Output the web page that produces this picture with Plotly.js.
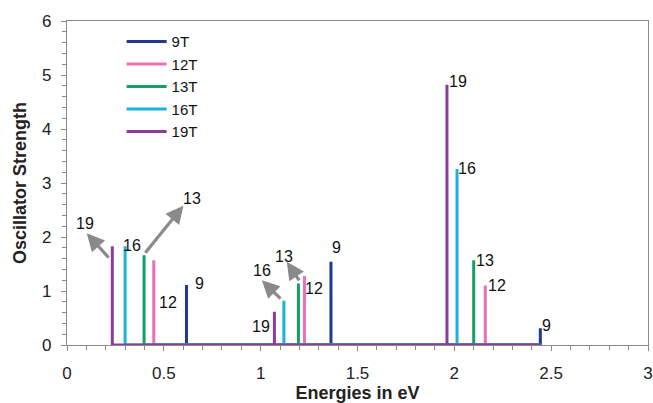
<!DOCTYPE html>
<html>
<head>
<meta charset="utf-8">
<script src="https://cdn.plot.ly/plotly-3.0.1.min.js"></script>
<style>html,body{margin:0;padding:0;background:#fff;}#chart{width:653px;height:403px;}</style>
</head>
<body>
<div id="chart"></div>
<script>
// Series names and colours
const seriesNames = ["9T", "12T", "13T", "16T", "19T"];
const seriesColors = ["#1f3a8f", "#ec6fb8", "#12a064", "#1ab4d9", "#8c3a9c"];

// Transition energies (eV) and oscillator strengths per series
const energies9T  = [0.617, 1.363, 2.444];
const strength9T  = [1.11, 1.54, 0.31];
const energies12T = [0.448, 1.226, 2.160];
const strength12T = [1.57, 1.28, 1.10];
const energies13T = [0.398, 1.195, 2.100];
const strength13T = [1.66, 1.14, 1.57];
const energies16T = [0.300, 1.120, 2.014];
const strength16T = [1.83, 0.82, 3.26];
const energies19T = [0.234, 1.071, 1.962];
const strength19T = [1.83, 0.615, 4.82];

const allEnergies = [energies9T, energies12T, energies13T, energies16T, energies19T];
const allStrengths = [strength9T, strength12T, strength13T, strength16T, strength19T];

// Tick labels
const xTickVals = [0, 0.5, 1, 1.5, 2, 2.5, 3];
const xTickText = ["0", "0.5", "1", "1.5", "2", "2.5", "3"];
const yTickVals = [0, 1, 2, 3, 4, 5, 6];
const yTickText = ["0", "1", "2", "3", "4", "5", "6"];

const baselineEnd = Math.max(...allEnergies.flat());

const traces = seriesNames.map((name, i) => {
  const xs = [], ys = [];
  allEnergies[i].forEach((e, j) => {
    xs.push(e, e, e);
    ys.push(0, allStrengths[i][j], 0);
  });
  xs.push(baselineEnd); ys.push(0);
  return {
    type: "scatter", mode: "lines", name: name,
    x: xs, y: ys,
    line: {color: seriesColors[i], width: 3},
    hoverinfo: "skip"
  };
});

const FAM = "Liberation Sans, Arial, sans-serif";
const fnt = {family: FAM, size: 16, color: "#111"};
function lab(text, x, y) {
  return {text: text, x: x, y: y, xref: "x", yref: "y", showarrow: false, font: fnt, xanchor: "center", yanchor: "middle"};
}
function arr(text, x, y, ax, ay, hx, hy) {
  return [
    lab(text, x, y),
    {text: "", x: hx, y: hy, ax: ax, ay: ay, xref: "x", yref: "y", axref: "x", ayref: "y",
     showarrow: true, arrowhead: 2, arrowsize: 1.1, arrowwidth: 3.2, arrowcolor: "#8a8a8a", standoff: 0}
  ];
}

const annotations = [
  ...arr("19", 0.093, 2.25, 0.222, 1.59, 0.102, 2.07),
  lab("16", 0.334, 1.85),
  ...arr("13", 0.644, 2.71, 0.398, 1.68, 0.601, 2.58),
  lab("12", 0.524, 0.78),
  lab("9", 0.684, 1.13),
  ...arr("16", 1.006, 1.38, 1.11, 0.83, 1.006, 1.20),
  ...arr("13", 1.118, 1.64, 1.204, 1.17, 1.135, 1.54),
  lab("12", 1.276, 1.05),
  lab("19", 1.001, 0.35),
  lab("9", 1.39, 1.81),
  lab("19", 2.017, 4.88),
  lab("16", 2.066, 3.26),
  lab("13", 2.16, 1.57),
  lab("12", 2.22, 1.11),
  lab("9", 2.475, 0.37)
];

const layout = {
  width: 653, height: 403,
  margin: {l: 67, r: 5, t: 21, b: 58},
  paper_bgcolor: "#fff", plot_bgcolor: "#fff",
  font: {family: FAM, color: "#222"},
  showlegend: true,
  legend: {x: 0.094, y: 0.987, xanchor: "left", yanchor: "top", bgcolor: "rgba(0,0,0,0)",
           font: {family: FAM, size: 15, color: "#111"},
           itemwidth: 40, tracegroupgap: 0},
  xaxis: {
    range: [0, 3], tickvals: xTickVals, ticktext: xTickText,
    showgrid: false, zeroline: false, showline: true, mirror: true, linecolor: "#8a8a8a", linewidth: 1.2,
    ticks: "outside", ticklen: 5, tickcolor: "#8a8a8a", ticklabelstandoff: 7,
    minor: {dtick: 0.1, ticks: "outside", ticklen: 4, tickcolor: "#8a8a8a", showgrid: false},
    tickfont: {family: FAM, size: 17, color: "#222"},
    title: {text: "<b>Energies in eV</b>", font: {family: FAM, size: 18, color: "#222"}, standoff: 6},
    automargin: false
  },
  yaxis: {
    range: [0, 6], tickvals: yTickVals, ticktext: yTickText,
    showgrid: false, zeroline: false, showline: true, mirror: true, linecolor: "#8a8a8a", linewidth: 1.2,
    ticks: "outside", ticklen: 5, tickcolor: "#8a8a8a", ticklabelstandoff: 6,
    minor: {dtick: 0.2, ticks: "outside", ticklen: 4, tickcolor: "#8a8a8a", showgrid: false},
    tickfont: {family: FAM, size: 17, color: "#222"},
    title: {text: "<b>Oscillator Strength</b>", font: {family: FAM, size: 18, color: "#222"}, standoff: 10},
    automargin: false
  },
  annotations: annotations
};

Plotly.newPlot("chart", traces, layout, {displayModeBar: false, staticPlot: true});
</script>
</body>
</html>
